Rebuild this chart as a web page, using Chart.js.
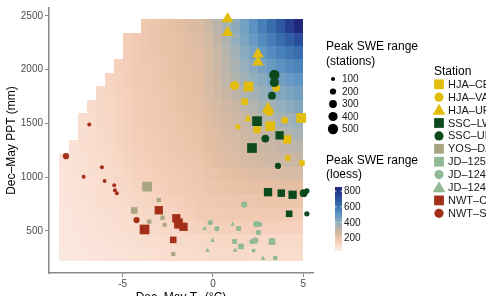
<!DOCTYPE html>
<html><head><meta charset="utf-8">
<script src="https://cdn.jsdelivr.net/npm/chart.js@4.4.1/dist/chart.umd.min.js"></script>
<style>
html,body{margin:0;padding:0;width:486px;height:296px;overflow:hidden;background:#fff}
canvas{display:block}
</style>
</head><body>
<canvas id="c" width="486" height="306"></canvas>
<script>
// ---------- data ----------
const xTicks = [-5, 0, 5];
const yTicks = [500, 1000, 1500, 2000, 2500];
const sizeLegendValues = [100, 200, 300, 400, 500];
const colorbarTicks = [200, 400, 600, 800];

// loess surface grid (cell centres)
const loessT = [-8.25,-7.75,-7.25,-6.75,-6.25,-5.75,-5.25,-4.75,-4.25,-3.75,-3.25,-2.75,-2.25,-1.75,-1.25,-0.75,-0.25,0.25,0.75,1.25,1.75,2.25,2.75,3.25,3.75,4.25,4.75];
const loessP = [282.5,407.5,532.5,657.5,782.5,907.5,1032.5,1157.5,1282.5,1407.5,1532.5,1657.5,1782.5,1907.5,2032.5,2157.5,2282.5,2407.5];
const _ = null;
const loessSWE = [
 [42,47,51,56,60,65,69,74,78,82,85,89,92,95,99,102,104,106,108,107,106,105,103,100,98,95,92],
 [46,51,57,62,67,72,78,83,88,92,95,99,102,106,111,115,117,118,120,119,119,118,116,114,112,110,108],
 [50,56,62,68,74,80,86,92,98,102,107,111,115,122,128,135,137,138,140,140,140,140,139,137,136,134,132],
 [54,61,68,74,81,88,95,101,108,113,118,123,128,136,144,152,155,157,160,161,161,162,161,161,160,159,158],
 [57,65,72,80,87,95,102,110,117,123,129,134,140,147,153,160,164,168,172,174,176,178,179,179,180,180,180],
 [60,68,76,84,92,100,109,117,125,131,138,144,150,156,162,168,174,179,185,189,194,198,200,203,205,207,208],
 [62,71,80,88,97,106,115,123,132,138,145,151,157,162,167,172,181,191,200,208,217,225,231,236,242,246,250],
 [64,73,83,92,101,110,120,129,138,144,151,157,163,168,173,178,194,209,225,237,248,260,268,277,285,290,295],
 [_,76,86,95,104,114,123,133,142,149,155,162,168,174,179,185,202,218,235,248,262,275,287,298,310,319,328],
 [_,_,88,97,107,117,127,136,146,153,159,166,172,179,185,192,210,227,245,260,275,290,305,320,335,348,360],
 [_,_,90,100,109,119,129,139,149,156,163,169,176,183,191,198,219,239,260,278,297,315,332,348,365,380,395],
 [_,_,_,102,111,121,132,142,152,159,166,173,180,188,197,205,228,252,275,297,318,340,358,377,395,413,430],
 [_,_,_,_,113,123,134,144,154,161,169,176,183,192,201,210,238,267,295,320,345,370,390,410,430,448,465],
 [_,_,_,_,_,125,135,146,156,164,171,179,186,196,205,215,248,282,315,343,372,400,422,443,465,483,500],
 [_,_,_,_,_,_,137,147,157,165,173,181,189,199,208,218,254,289,325,358,392,425,453,482,510,535,560],
 [_,_,_,_,_,_,_,148,158,167,175,184,192,201,211,220,258,297,335,375,415,455,492,528,565,598,630],
 [_,_,_,_,_,_,_,149,159,168,177,185,194,207,219,232,271,311,350,395,440,485,532,578,625,672,720],
 [_,_,_,_,_,_,_,_,_,169,178,187,196,212,229,245,285,325,365,413,462,510,570,630,690,770,850]
];

// station points: [Ta (°C), PPT (mm), peak SWE range]
const HJA_CE = [[1.97,1842,400],[1.75,1702,200],[4.89,1550,400],[3.17,1474,400],[4.1,1350,300],[4.15,1176,150],[4.93,1130,150]];
const HJA_VA = [[1.2,1851,400],[3.5,1830,300],[3.1,1610,400],[3.97,1529,250],[2.44,1443,300],[1.38,1468,150]];
const HJA_UP = [[0.81,2472,450],[0.81,2344,450],[2.49,2143,450],[2.49,2070,450],[3.05,1635,500],[1.94,1541,200]];
const SSC_LW = [[2.44,1520,400],[3.69,1388,300],[2.16,1270,400],[3.05,859,300],[3.78,850,250],[4.41,835,300],[4.22,658,200]];
const SSC_UP = [[3.4,1950,500],[3.4,1880,400],[3.27,1757,300],[2.9,1358,300],[3.6,1103,200],[5.02,850,300],[5.2,871,150],[5.2,658,150]];
const YOS_DA = [[-3.65,911,400],[-4.36,689,200],[-3.0,786,100],[-2.79,621,100],[-3.53,585,100],[-2.68,555,90],[-2.2,284,100]];
const JD_125 = [[1.42,521,120],[1.2,400,120],[1.55,354,150],[3.27,400,200],[3.45,247,100]];
const JD_124c = [[1.73,744,200],[-0.15,576,150],[0.22,521,150],[2.4,561,200],[2.58,561,150],[2.52,484,150],[2.16,400,150],[2.34,409,200],[2.25,317,100]];
const JD_124t = [[-0.46,521,100],[1.09,561,100],[-0.02,409,100],[-0.3,317,100],[1.23,317,100],[2.77,242,100]];
const NWT_C = [[-3.0,691,300],[-2.03,616,300],[-1.9,576,300],[-1.94,555,250],[-1.63,537,300],[-2.2,415,200],[-3.79,512,400]];
const NWT_S = [[-4.23,600,200],[-8.14,1194,200],[-7.16,1002,100],[-6.15,1091,100],[-6.0,963,100],[-5.47,923,100],[-5.43,877,100],[-5.32,850,100],[-6.85,1489,100]];

const stationNames = ['HJA–CE','HJA–VA','HJA–UP','SSC–LW','SSC–UP','YOS–DA','JD–125','JD–124','JD–124','NWT–C','NWT–S'];

// ---------- styling ----------
const GOLD = '#E3BD0D', GREEN = '#0C4A1E', KHAKI = '#A9A581', SAGE = '#92B995', RED = '#A32F19';
const stationStyle = [
  {data: HJA_CE, shape: 'rect', color: GOLD},
  {data: HJA_VA, shape: 'circle', color: GOLD},
  {data: HJA_UP, shape: 'triangle', color: GOLD},
  {data: SSC_LW, shape: 'rect', color: GREEN},
  {data: SSC_UP, shape: 'circle', color: GREEN},
  {data: YOS_DA, shape: 'rect', color: KHAKI},
  {data: JD_125, shape: 'rect', color: SAGE},
  {data: JD_124c, shape: 'circle', color: SAGE},
  {data: JD_124t, shape: 'triangle', color: SAGE},
  {data: NWT_C, shape: 'rect', color: RED},
  {data: NWT_S, shape: 'circle', color: RED}
];
const shapeFactor = {circle: 1, rect: 1.5, triangle: 1.4};
function rad(s) { return Math.sqrt(Math.max(1, 0.0563 * s - 1.6)); }

const sweStops = [[0,[253,241,237]],[100,[249,220,205]],[150,[244,205,183]],[200,[231,191,163]],[300,[200,182,165]],[400,[147,175,189]],[500,[95,149,195]],[600,[61,118,179]],[700,[44,85,159]],[800,[34,52,138]],[900,[27,27,107]]];
function sweColor(v) {
  for (let i = 1; i < sweStops.length; i++) {
    if (v <= sweStops[i][0] || i === sweStops.length - 1) {
      const [v0, c0] = sweStops[i-1], [v1, c1] = sweStops[i];
      const t = Math.max(0, Math.min(1, (v - v0) / (v1 - v0)));
      return 'rgb(' + c0.map((c, k) => Math.round(c + (c1[k] - c) * t)).join(',') + ')';
    }
  }
}

function drawShape(ctx, shape, x, y, r, triScale) {
  ctx.beginPath();
  if (shape === 'circle') ctx.arc(x, y, r, 0, Math.PI * 2);
  else if (shape === 'rect') { const h = r * Math.SQRT1_2 * 1.5; ctx.rect(x - h, y - h, 2 * h, 2 * h); }
  else { const t = r * (triScale || 1.4); ctx.moveTo(x, y - t); ctx.lineTo(x + t * 0.866, y + t / 2); ctx.lineTo(x - t * 0.866, y + t / 2); ctx.closePath(); }
  ctx.fill();
}

const FONT = '"Liberation Sans", Arial, sans-serif';

const heatmapPlugin = {
  id: 'loessSurface',
  beforeDatasetsDraw(chart) {
    const {ctx, scales: {x, y}} = chart;
    const dT = loessT[1] - loessT[0], dP = loessP[1] - loessP[0];
    ctx.save();
    loessSWE.forEach((row, r) => row.forEach((v, c) => {
      if (v == null) return;
      const x0 = Math.round(x.getPixelForValue(loessT[c] - dT / 2));
      const x1 = Math.round(x.getPixelForValue(loessT[c] + dT / 2));
      const y0 = Math.round(y.getPixelForValue(loessP[r] + dP / 2));
      const y1 = Math.round(y.getPixelForValue(loessP[r] - dP / 2));
      ctx.fillStyle = sweColor(v);
      ctx.fillRect(x0, y0, x1 - x0, y1 - y0);
    }));
    ctx.restore();
  }
};

const legendPlugin = {
  id: 'legends',
  afterDraw(chart) {
    const ctx = chart.ctx;
    ctx.save();
    ctx.textBaseline = 'middle';
    ctx.textAlign = 'left';
    // size legend
    ctx.fillStyle = '#000';
    ctx.font = '12px ' + FONT;
    ctx.fillText('Peak SWE range', 326, 47);
    ctx.fillText('(stations)', 326, 62);
    ctx.font = '10px ' + FONT;
    sizeLegendValues.forEach((s, i) => {
      const yy = 79 + i * 12.5;
      ctx.fillStyle = '#000';
      drawShape(ctx, 'circle', 333, yy, rad(s));
      ctx.fillStyle = '#1a1a1a';
      ctx.fillText(String(s), 342, yy + 0.5);
    });
    // colorbar legend
    ctx.fillStyle = '#000';
    ctx.font = '12px ' + FONT;
    ctx.fillText('Peak SWE range', 326, 161);
    ctx.fillText('(loess)', 326, 175);
    const vMin = 42, vMax = 850;
    const yOf = v => 253.6 - v * 0.078;
    const bx0 = 335, bx1 = 342;
    for (let yy = Math.floor(yOf(vMax)); yy < Math.ceil(yOf(vMin)); yy++) {
      const v = (253.6 - (yy + 0.5)) / 0.078;
      ctx.fillStyle = sweColor(Math.max(vMin, Math.min(vMax, v)));
      ctx.fillRect(bx0, yy, bx1 - bx0, 1);
    }
    ctx.strokeStyle = '#fff';
    ctx.lineWidth = 0.8;
    ctx.font = '10px ' + FONT;
    colorbarTicks.forEach(v => {
      const yy = yOf(v);
      ctx.beginPath();
      ctx.moveTo(bx0, yy); ctx.lineTo(bx0 + 1.5, yy);
      ctx.moveTo(bx1 - 1.5, yy); ctx.lineTo(bx1, yy);
      ctx.stroke();
      ctx.fillStyle = '#1a1a1a';
      ctx.fillText(String(v), 344, yy + 0.5);
    });
    // station legend
    ctx.fillStyle = '#000';
    ctx.font = '12px ' + FONT;
    ctx.fillText('Station', 434, 71.7);
    ctx.font = '11px ' + FONT;
    stationStyle.forEach((st, i) => {
      const yy = 84.3 + i * 12.9;
      ctx.fillStyle = st.color;
      drawShape(ctx, st.shape, 439, yy + (st.shape === 'triangle' ? 1 : 0), 4.6, 1.6);
      ctx.fillStyle = '#1a1a1a';
      ctx.fillText(stationNames[i], 448, yy + 0.5);
    });
    ctx.restore();
  }
};

const datasets = stationStyle.map((st, i) => ({
  label: stationNames[i],
  data: st.data.map(p => ({x: p[0], y: p[1], s: p[2]})),
  pointStyle: st.shape,
  backgroundColor: st.color,
  borderColor: st.color,
  borderWidth: 0,
  pointRadius: ctx => rad(ctx.raw ? ctx.raw.s : 100) * shapeFactor[st.shape],
  order: -i
}));

new Chart(document.getElementById('c'), {
  type: 'scatter',
  data: {datasets},
  plugins: [heatmapPlugin, legendPlugin],
  options: {
    responsive: false,
    animation: false,
    devicePixelRatio: 1,
    events: [],
    layout: {padding: {left: 0, top: 3, right: 173, bottom: 0}},
    plugins: {legend: {display: false}, tooltip: {enabled: false}},
    scales: {
      x: {
        type: 'linear', min: -9.08, max: 5.54,
        afterBuildTicks: s => { s.ticks = xTicks.map(v => ({value: v})); },
        afterFit: s => { s.height = 33; },
        ticks: {font: {family: FONT, size: 10}, color: '#4d4d4d', padding: 1, callback: v => String(v)},
        grid: {drawOnChartArea: false, drawTicks: true, tickLength: 4, color: '#8a8a8a', lineWidth: 1},
        border: {display: true, color: '#8a8a8a', width: 1.5},
        title: {display: true, text: 'Dec–May Tₐ (°C)', font: {family: FONT, size: 12}, color: '#000', padding: {top: 0, bottom: 1}}
      },
      y: {
        type: 'linear', min: 107, max: 2573,
        afterBuildTicks: s => { s.ticks = yTicks.map(v => ({value: v})); },
        afterFit: s => { s.width = 49; },
        ticks: {font: {family: FONT, size: 10}, color: '#4d4d4d', padding: 2, callback: v => String(v)},
        grid: {drawOnChartArea: false, drawTicks: true, tickLength: 4, color: '#8a8a8a', lineWidth: 1},
        border: {display: true, color: '#8a8a8a', width: 1.5},
        title: {display: true, text: 'Dec–May PPT (mm)', font: {family: FONT, size: 12}, color: '#000', padding: {top: 4, bottom: 0}}
      }
    }
  }
});
</script>
</body></html>
